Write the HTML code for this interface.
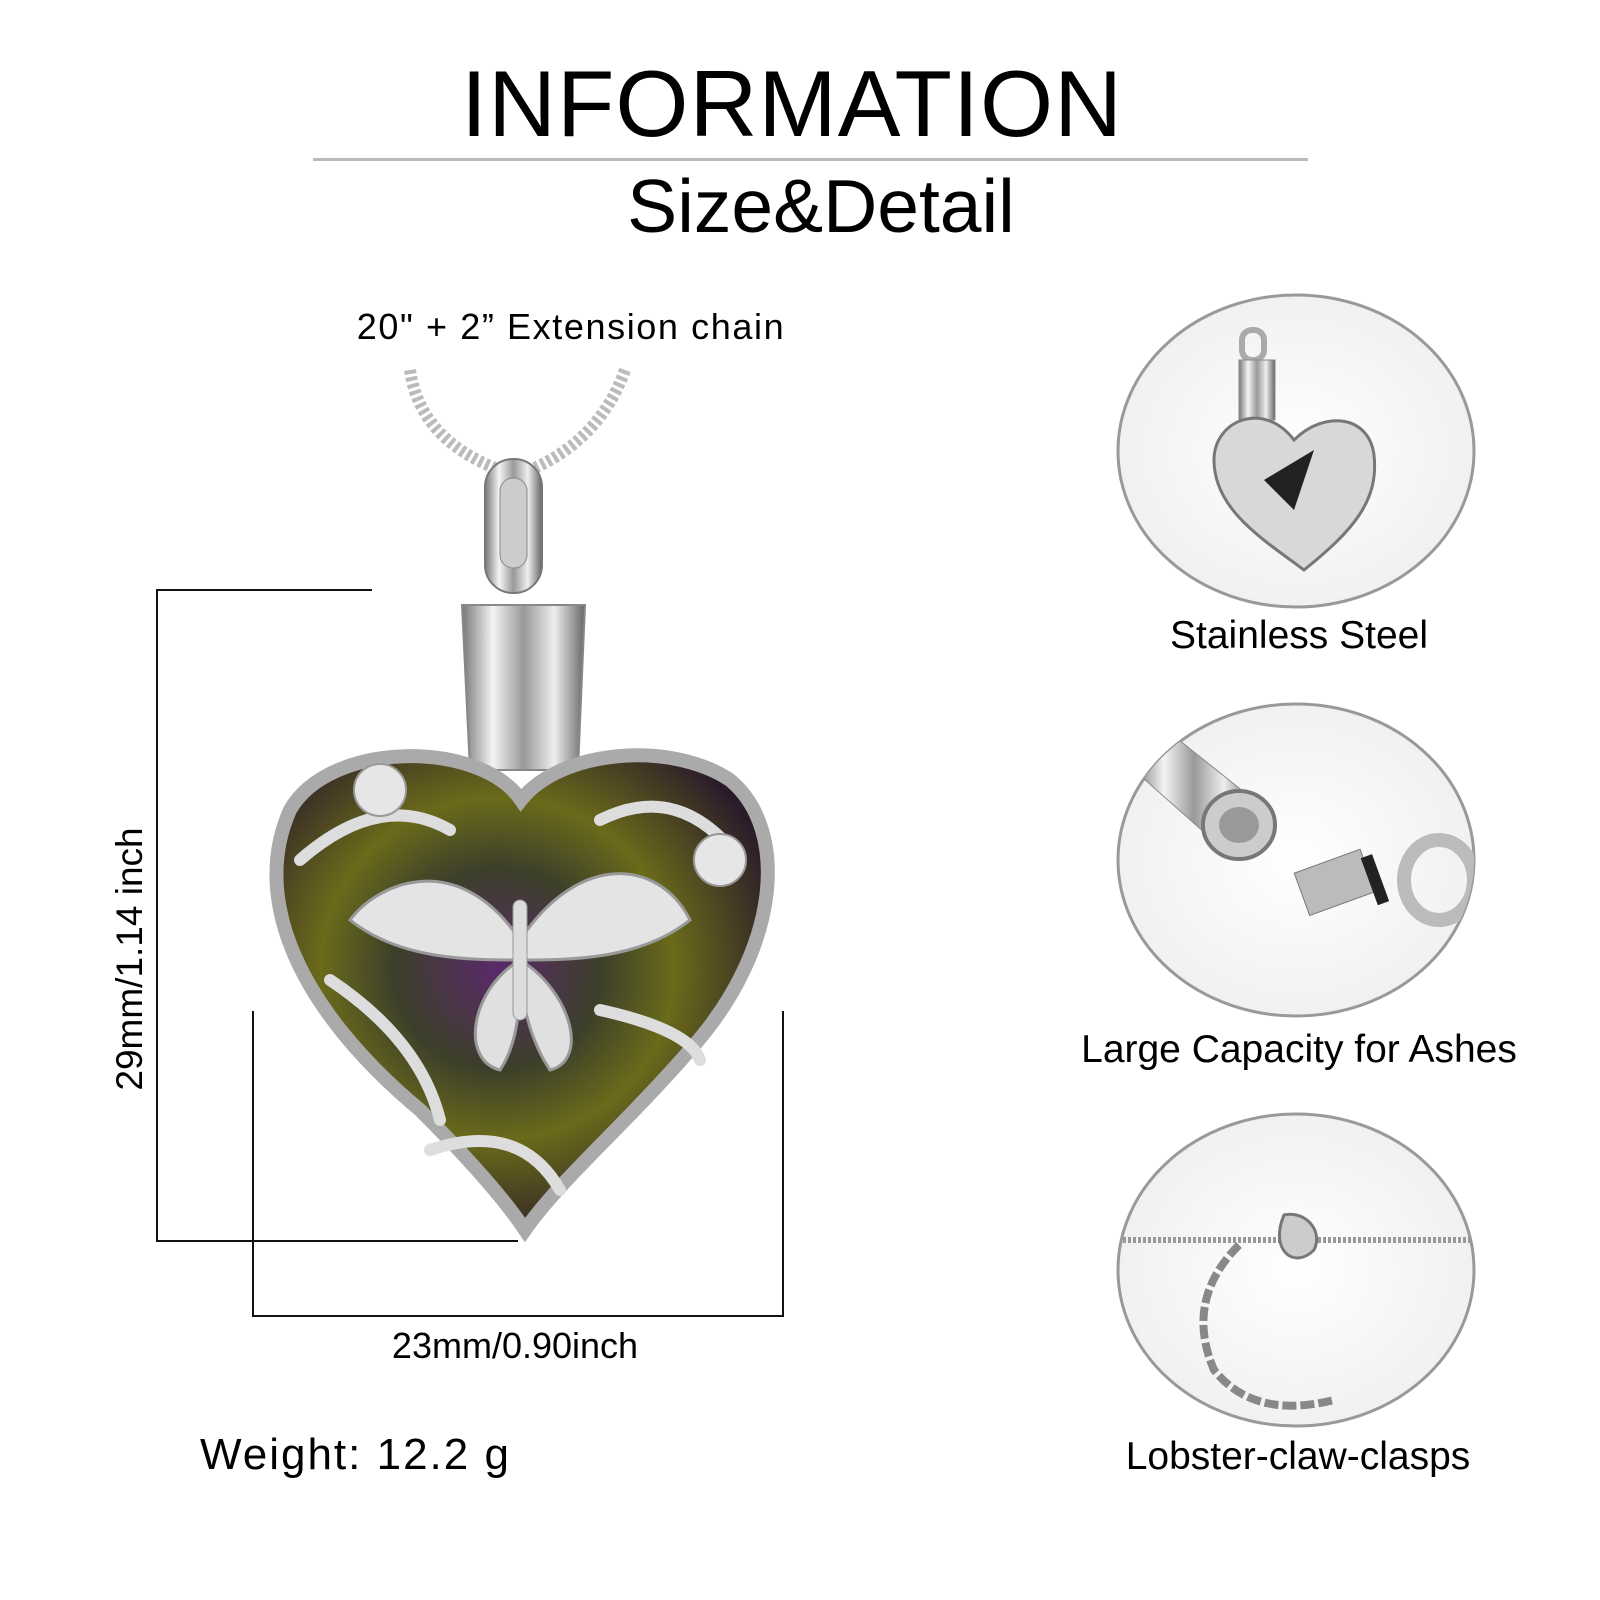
<!DOCTYPE html>
<html><head><meta charset="utf-8"><style>
body{margin:0;background:#fff;width:1600px;height:1600px;overflow:hidden;position:relative;font-family:"Liberation Sans",sans-serif;color:#000}
.t{position:absolute;white-space:nowrap;transform:translate(-50%,-50%)}
</style></head><body>
<div class="t" style="left:792px;top:104px;font-size:94px;letter-spacing:1px">INFORMATION</div>
<div style="position:absolute;left:313px;top:158px;width:995px;height:3px;background:#bbb"></div>
<div class="t" style="left:821px;top:206px;font-size:75px">Size&amp;Detail</div>
<div class="t" style="left:571px;top:327px;font-size:36px;letter-spacing:1.6px">20" +  2” Extension chain</div>
<div class="t" style="left:1299px;top:636px;font-size:39px">Stainless Steel</div>
<div class="t" style="left:1299px;top:1050px;font-size:39px">Large Capacity for Ashes</div>
<div class="t" style="left:1298px;top:1457px;font-size:39px">Lobster-claw-clasps</div>
<div class="t" style="left:130px;top:959px;font-size:37px;transform:translate(-50%,-50%) rotate(-90deg)">29mm/1.14 inch</div>
<div class="t" style="left:515px;top:1346px;font-size:36px">23mm/0.90inch</div>
<div style="position:absolute;left:200px;top:1430px;font-size:44px;letter-spacing:2px;white-space:nowrap">Weight:  12.2 g</div>
<svg width="1600" height="1600" style="position:absolute;left:0;top:0">
<defs>
<linearGradient id="met" x1="0" x2="1"><stop offset="0" stop-color="#777"/><stop offset=".25" stop-color="#f4f4f4"/><stop offset=".5" stop-color="#999"/><stop offset=".75" stop-color="#eee"/><stop offset="1" stop-color="#666"/></linearGradient>
<radialGradient id="gem" cx=".45" cy=".45" r=".6"><stop offset="0" stop-color="#5a2a6a"/><stop offset=".35" stop-color="#3c3f2a"/><stop offset=".6" stop-color="#6a6a1a"/><stop offset="1" stop-color="#2a1a2a"/></radialGradient>
<radialGradient id="cg" cx=".5" cy=".5" r=".6"><stop offset="0" stop-color="#fff"/><stop offset="1" stop-color="#eee"/></radialGradient>
<clipPath id="c1"><ellipse cx="1296" cy="451" rx="178" ry="156"/></clipPath>
<clipPath id="c2"><ellipse cx="1296" cy="860" rx="178" ry="156"/></clipPath>
<clipPath id="c3"><ellipse cx="1296" cy="1270" rx="178" ry="156"/></clipPath>
</defs>
<g fill="none" stroke="#111" stroke-width="2">
<polyline points="372,590 157,590 157,1241 518,1241"/>
<polyline points="253,1011 253,1316 783,1316 783,1011"/>
</g>
<path d="M410 370 Q420 440 500 470" stroke="#bbb" stroke-width="12" fill="none" stroke-dasharray="4 3"/>
<path d="M625 370 Q600 440 530 470" stroke="#bbb" stroke-width="12" fill="none" stroke-dasharray="4 3"/>
<rect x="485" y="459" width="57" height="134" rx="28" fill="url(#met)" stroke="#777" stroke-width="2"/>
<rect x="500" y="478" width="27" height="90" rx="13" fill="#ccc" stroke="#888"/>
<path d="M462 605 L585 605 L578 770 L470 770 Z" fill="url(#met)" stroke="#888" stroke-width="2"/>
<path d="M521 800 C480 740 330 740 290 810 C250 900 300 1010 420 1110 C470 1160 505 1200 525 1230 C560 1180 620 1130 690 1050 C780 950 790 830 730 780 C670 740 560 750 521 800 Z" fill="url(#gem)" stroke="#aaa" stroke-width="14"/>
<g fill="none" stroke="#ddd" stroke-width="12" stroke-linecap="round">
<path d="M300 860 Q380 790 450 830"/><path d="M600 820 Q680 780 740 860"/>
<path d="M330 980 Q420 1040 440 1120"/><path d="M600 1010 Q690 1030 700 1060"/>
<path d="M430 1150 Q520 1120 560 1190"/>
</g>
<path d="M520 940 C460 850 380 880 350 920 C400 960 470 960 520 960 C570 960 640 960 690 920 C660 860 580 850 520 940 Z" fill="#e4e4e4" stroke="#999" stroke-width="3"/>
<path d="M520 960 C470 990 460 1060 500 1070 C520 1040 520 1000 520 960 C520 1000 530 1040 550 1070 C590 1060 570 990 520 960 Z" fill="#e0e0e0" stroke="#999" stroke-width="3"/>
<rect x="513" y="900" width="14" height="120" rx="7" fill="#ddd" stroke="#999"/>
<circle cx="380" cy="790" r="26" fill="#e6e6e6" stroke="#999" stroke-width="2"/>
<circle cx="720" cy="860" r="26" fill="#e6e6e6" stroke="#999" stroke-width="2"/>
<g stroke="#999" stroke-width="3" fill="url(#cg)">
<ellipse cx="1296" cy="451" rx="178" ry="156"/>
<ellipse cx="1296" cy="860" rx="178" ry="156"/>
<ellipse cx="1296" cy="1270" rx="178" ry="156"/>
</g>
<g clip-path="url(#c1)">
<rect x="1242" y="330" width="22" height="30" rx="10" fill="none" stroke="#aaa" stroke-width="6"/>
<rect x="1239" y="360" width="36" height="60" fill="url(#met)" stroke="#888"/>
<path d="M1294 440 C1264 400 1214 420 1214 460 C1214 510 1264 540 1304 570 C1354 530 1379 500 1374 455 C1369 415 1324 410 1294 440 Z" fill="#d8d8d8" stroke="#777" stroke-width="3"/>
<path d="M1264 480 L1314 450 L1294 510 Z" fill="#222"/>
</g>
<g clip-path="url(#c2)">
<path d="M1154 720 L1254 800 L1224 850 L1134 770 Z" fill="url(#met)" stroke="#888"/>
<ellipse cx="1239" cy="825" rx="36" ry="34" fill="#ccc" stroke="#777" stroke-width="4"/>
<ellipse cx="1239" cy="825" rx="20" ry="18" fill="#999"/>
<rect x="1299" y="860" width="70" height="45" fill="#bbb" stroke="#777" transform="rotate(-20 1334 880)"/>
<rect x="1369" y="855" width="12" height="50" fill="#222" transform="rotate(-20 1374 880)"/>
<ellipse cx="1439" cy="880" rx="35" ry="40" fill="none" stroke="#bbb" stroke-width="14"/>
</g>
<g clip-path="url(#c3)">
<line x1="1118" y1="1240" x2="1476" y2="1240" stroke="#999" stroke-width="6" stroke-dasharray="3 2"/>
<path d="M1284 1215 C1304 1210 1324 1230 1314 1250 C1294 1270 1269 1250 1284 1215 Z" fill="#ccc" stroke="#777" stroke-width="3"/>
<path d="M1239 1245 Q1184 1300 1214 1370 Q1254 1420 1334 1400" fill="none" stroke="#888" stroke-width="8" stroke-dasharray="14 4"/>
</g>
</svg>
</body></html>
